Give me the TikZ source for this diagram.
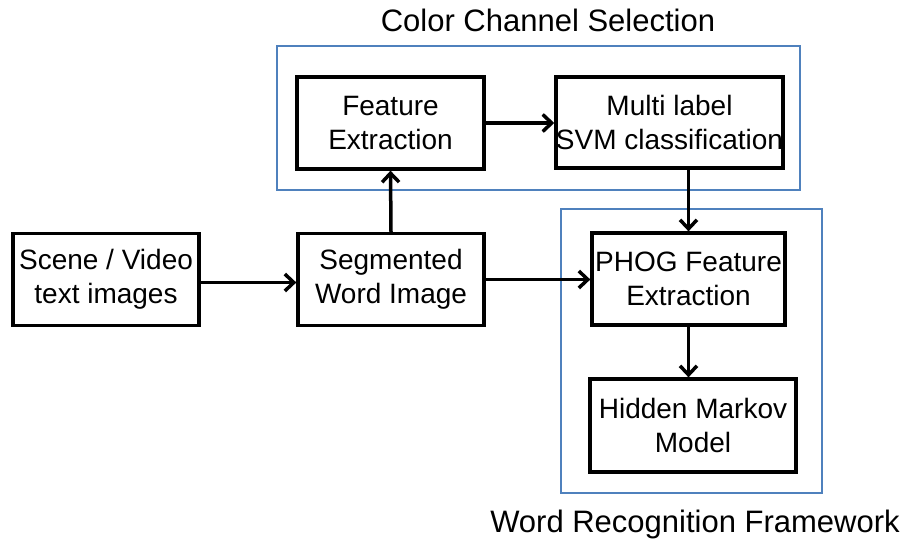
\documentclass[tikz,border=0pt]{standalone}
\usepackage{fontspec}
\setmainfont{Liberation Sans}
\usetikzlibrary{positioning,arrows.meta,calc}
\definecolor{framecol}{RGB}{79,129,189}
\tikzset{
  blockbox/.style={draw, line width=3.3pt, align=center, inner sep=0pt,
    font=\fontsize{28}{34}\selectfont, minimum height=92pt},
  groupframe/.style={draw=framecol, line width=1.6pt},
  blockarrow/.style={-{Straight Barb[length=9pt,width=17pt]}, line width=3.5pt},
  grouplabel/.style={font=\fontsize{31}{36}\selectfont},
}

\begin{document}
\begin{tikzpicture}[x=1pt, y=-1pt]
  \useasboundingbox (0,0) rectangle (911,544);
  % group frames
  \draw[groupframe] (277,46) rectangle (800,190);
  \draw[groupframe] (561,209) rectangle (822,493);
  \node[grouplabel] (colorlabel) at (548,20) {Color Channel Selection};
  \node[grouplabel] (wordlabel) at (695,524) {Word Recognition Framework};
  % blocks
  \node[blockbox, minimum width=186pt] (scene) at (106,279.5) {Scene / Video\\text images};
  \node[blockbox, minimum width=186pt] (seg) at (391,279.5) {Segmented\\Word Image};
  \node[blockbox, minimum width=187pt] (feat) at (390.5,123) {Feature\\Extraction};
  \node[blockbox, minimum width=227pt, minimum height=91pt] (svm) at (669.5,122.5) {Multi label\\SVM classification};
  \node[blockbox, minimum width=193pt] (phog) at (688.5,279) {PHOG Feature\\Extraction};
  \node[blockbox, minimum width=206pt, minimum height=93pt] (hmm) at (693,425.5) {Hidden Markov\\Model};
  % connectors
  \draw[blockarrow] ([yshift=-3pt]scene.east) -- ([yshift=-3pt]seg.west);
  \draw[blockarrow] (seg.north) -- (feat.south);
  \draw[blockarrow] (feat.east) -- (feat.east -| svm.west);
  \draw[blockarrow] (seg.east) -- (seg.east -| phog.west);
  \draw[blockarrow] (svm.south -| phog.north) -- (phog.north);
  \draw[blockarrow] (phog.south) -- (phog.south |- hmm.north);
\end{tikzpicture}
\end{document}
